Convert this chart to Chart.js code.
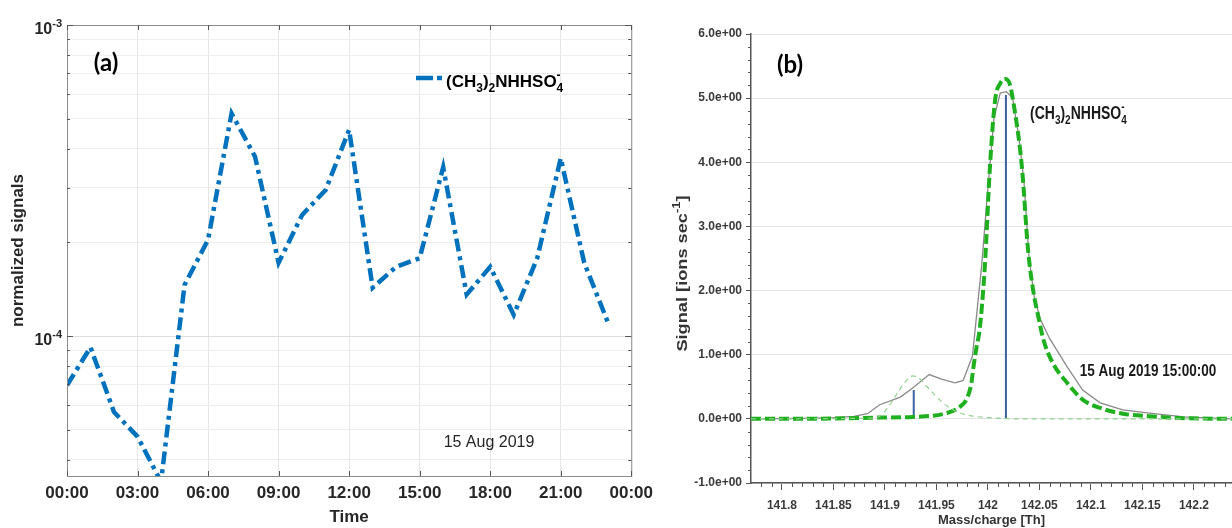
<!DOCTYPE html>
<html>
<head>
<meta charset="utf-8">
<title>Dimethylamine–sulfate signal</title>
<script src="https://cdn.jsdelivr.net/npm/chart.js@4.4.1/dist/chart.umd.min.js"></script>
<style>
  body { margin: 0; background: #fff; }
  #wrap { position: relative; width: 1232px; height: 528px; overflow: hidden; background: #fff; }
  canvas { position: absolute; top: 0; }
  #timeChart { left: 0; }
  #specChart { left: 660px; }
</style>
</head>
<body>
<div id="wrap">
  <canvas id="timeChart" width="660" height="528"></canvas>
  <canvas id="specChart" width="572" height="528"></canvas>
</div>
<script>
// (a) hourly normalized signal, 15 Aug 2019
const hours = [0, 1, 2, 3, 4, 5, 6, 7, 8, 9, 10, 11, 12, 13, 14, 15, 16, 17, 18, 19, 20, 21, 22, 23];
const signal = [6.95e-5, 9.2e-5, 5.7e-5, 4.75e-5, 3.4e-5, 1.46e-4, 2.04e-4, 5.2e-4, 3.77e-4, 1.72e-4,
                2.45e-4, 2.95e-4, 4.6e-4, 1.43e-4, 1.67e-4, 1.78e-4, 3.49e-4, 1.36e-4, 1.67e-4, 1.17e-4,
                1.78e-4, 3.73e-4, 1.72e-4, 1.11e-4];
const logGrid = [4e-5, 5e-5, 6e-5, 7e-5, 8e-5, 9e-5, 1e-4, 2e-4, 3e-4, 4e-4, 5e-4, 6e-4, 7e-4, 8e-4, 9e-4, 1e-3];
const logLabels = [1e-4, 1e-3];

// (b) mass spectrum around m/z 142 at 15:00
const rawMass = [141.77, 141.80, 141.83, 141.85, 141.87, 141.883, 141.895, 141.915, 141.927, 141.943,
                 141.955, 141.968, 141.976, 141.985, 141.994, 142.0, 142.006, 142.012, 142.018, 142.024,
                 142.03, 142.035, 142.04, 142.045, 142.051, 142.06, 142.077, 142.092, 142.109, 142.131,
                 142.157, 142.19, 142.237];
const rawSignal = [0, 0.005, 0.01, 0.02, 0.04, 0.08, 0.22, 0.34, 0.48, 0.69,
                   0.62, 0.56, 0.6, 0.98, 2.4, 3.6, 4.7, 5.08, 5.1, 5.0,
                   4.4, 3.7, 2.5, 1.9, 1.55, 1.25, 0.81, 0.45, 0.25, 0.14,
                   0.09, 0.03, 0];
const fitMass = [141.77, 141.85, 141.895, 141.927, 141.96, 141.973, 141.98, 141.984, 141.986, 141.989,
                 141.992, 141.997, 142.002, 142.007, 142.012, 142.0165, 142.021, 142.026, 142.033, 142.039,
                 142.044, 142.049, 142.054, 142.063, 142.077, 142.092, 142.109, 142.131, 142.157, 142.19,
                 142.237];
const fitSignal = [0, 0.005, 0.02, 0.03, 0.09, 0.19, 0.33, 0.56, 0.81, 1.12,
                   1.39, 2.37, 3.93, 4.97, 5.23, 5.3, 5.23, 4.81, 3.93, 2.63,
                   2.0, 1.59, 1.23, 0.87, 0.56, 0.3, 0.17, 0.08, 0.04, 0.01,
                   0];
const minorMass = [141.77, 141.885, 141.895, 141.904, 141.912, 141.92, 141.927, 141.934, 141.941, 141.953,
                   141.965, 141.98, 142.0, 142.03, 142.237];
const minorSignal = [0, 0.01, 0.04, 0.2, 0.4, 0.58, 0.67, 0.62, 0.5, 0.3,
                     0.15, 0.06, 0.02, 0, 0];
const stickMass = [141.928, 142.0175];
const stickLow = [0.04, 0];
const stickHigh = [0.45, 5.05];
const massTicks = [141.8, 141.85, 141.9, 141.95, 142, 142.05, 142.1, 142.15, 142.2];

const FAMILY = '"Liberation Sans", Arial, sans-serif';
Chart.defaults.font.family = FAMILY;
Chart.defaults.color = '#262626';

const formula = [{ t: '(CH' }, { sub: '3' }, { t: ')' }, { sub: '2' }, { t: 'NHHSO' }, { sub: '4', sup: '-' }];

// text runs on one baseline, sub/superscripts in a smaller size
function drawRich(ctx, runs, x, y, size, weight, align) {
  const big = `${weight} ${size}px ${FAMILY}`;
  const small = `${weight} ${Math.round(size * 0.7)}px ${FAMILY}`;
  const widthOf = r => {
    if (r.t) { ctx.font = big; return ctx.measureText(r.t).width; }
    ctx.font = small;
    return Math.max(r.sub ? ctx.measureText(r.sub).width : 0, r.sup ? ctx.measureText(r.sup).width : 0);
  };
  const total = runs.reduce((s, r) => s + widthOf(r), 0);
  let cx = align === 'center' ? x - total / 2 : align === 'right' ? x - total : x;
  ctx.textAlign = 'left';
  ctx.textBaseline = 'alphabetic';
  runs.forEach(r => {
    const w = widthOf(r);
    if (r.t) {
      ctx.font = big;
      ctx.fillText(r.t, cx, y);
    } else {
      ctx.font = small;
      if (r.sub) ctx.fillText(r.sub, cx, y + size * 0.28);
      if (r.sup) ctx.fillText(r.sup, cx, y - size * 0.45);
    }
    cx += w;
  });
}

function line(ctx, x1, y1, x2, y2) {
  ctx.beginPath();
  ctx.moveTo(x1, y1);
  ctx.lineTo(x2, y2);
  ctx.stroke();
}

// axes box, inward ticks and labels for the time series
const frameA = {
  id: 'frameA',
  afterDraw(chart) {
    const { ctx, chartArea: a, scales: { x, y } } = chart;
    ctx.save();
    ctx.strokeStyle = '#8c8c8c';
    ctx.lineWidth = 1;
    ctx.strokeRect(a.left + 0.5, a.top + 0.5, a.right - a.left, a.bottom - a.top);
    ctx.strokeStyle = '#555';
    x.ticks.forEach(t => {
      const px = Math.round(x.getPixelForValue(t.value)) + 0.5;
      line(ctx, px, a.top, px, a.top + 5);
      line(ctx, px, a.bottom, px, a.bottom - 5);
    });
    logGrid.forEach(v => {
      const py = Math.round(y.getPixelForValue(v)) + 0.5;
      const len = logLabels.includes(v) ? 6 : 3;
      line(ctx, a.left, py, a.left + len, py);
      line(ctx, a.right - len, py, a.right, py);
    });

    ctx.fillStyle = '#262626';
    logLabels.forEach(v => {
      const py = y.getPixelForValue(v);
      drawRich(ctx, [{ t: '10' }, { sup: '-' + Math.round(-Math.log10(v)) }], a.left - 5, py + 9, 16, 'bold', 'right');
    });

    ctx.fillStyle = '#000';
    ctx.font = 'bold 24px Lato, sans-serif';
    ctx.textAlign = 'center';
    ctx.textBaseline = 'middle';
    ctx.fillText('(a)', 106, 63);

    // legend
    ctx.strokeStyle = '#0072bd';
    ctx.lineWidth = 4.5;
    line(ctx, 416, 78, 433, 78);
    line(ctx, 437, 78, 442, 78);
    ctx.fillStyle = '#000';
    drawRich(ctx, formula, 446, 87, 17, 'bold', 'left');

    ctx.fillStyle = '#262626';
    ctx.font = `16px ${FAMILY}`;
    ctx.textAlign = 'center';
    ctx.textBaseline = 'middle';
    ctx.fillText('15 Aug 2019', 489, 443);
    ctx.restore();
  }
};

new Chart(document.getElementById('timeChart'), {
  type: 'line',
  data: {
    datasets: [{
      label: '(CH3)2NHHSO4-',
      data: hours.map((h, i) => ({ x: h, y: signal[i] })),
      borderColor: '#0072bd',
      borderWidth: 4.5,
      borderDash: [13, 5, 4, 5],
      borderCapStyle: 'butt',
      pointRadius: 0,
      tension: 0
    }]
  },
  options: {
    responsive: false,
    animation: false,
    layout: { padding: { top: 25, right: 24, left: 0, bottom: 0 } },
    plugins: { legend: { display: false }, tooltip: { enabled: false } },
    scales: {
      x: {
        type: 'linear',
        min: 0,
        max: 24,
        afterFit: s => { s.height = 52; },
        ticks: {
          stepSize: 3,
          padding: 7,
          font: { size: 17, weight: 'bold' },
          color: '#262626',
          callback: v => String(v % 24).padStart(2, '0') + ':00'
        },
        grid: { color: '#e6e6e6', drawTicks: false },
        border: { display: false },
        title: { display: true, text: 'Time', font: { size: 17, weight: 'bold' }, color: '#262626', padding: { top: 0, bottom: 0 } }
      },
      y: {
        type: 'logarithmic',
        min: 3.55e-5,
        max: 1e-3,
        afterFit: s => { s.width = 67; },
        afterBuildTicks: s => { s.ticks = logGrid.map(v => ({ value: v })); },
        ticks: { display: false },
        grid: {
          drawTicks: false,
          color: c => logLabels.includes(c.tick.value) ? '#dedede' : '#eeeeee'
        },
        border: { display: false },
        title: { display: true, text: 'normalized signals', font: { size: 17, weight: 'bold' }, color: '#262626', padding: { top: 8, bottom: 0 } }
      }
    }
  },
  plugins: [frameA]
});

// minor ticks and labels for the spectrum
const frameB = {
  id: 'frameB',
  afterDraw(chart) {
    const { ctx, chartArea: a, scales: { x, y } } = chart;
    ctx.save();
    ctx.strokeStyle = '#555';
    ctx.lineWidth = 1;
    for (let k = 14178; k <= 14223; k++) {
      if (k % 5 === 0) continue;
      const px = Math.round(x.getPixelForValue(k / 100)) + 0.5;
      line(ctx, px, a.bottom, px, a.bottom + 4);
    }
    for (let k = -10; k <= 60; k += 2) {
      if (k % 10 === 0) continue;
      const py = Math.round(y.getPixelForValue(k / 10)) + 0.5;
      line(ctx, a.left - 3, py, a.left, py);
    }

    ctx.fillStyle = '#000';
    ctx.font = 'bold 24px Lato, sans-serif';
    ctx.textAlign = 'center';
    ctx.textBaseline = 'middle';
    ctx.fillText('(b)', 130, 65);

    // this panel's lettering is drawn taller than wide
    ctx.fillStyle = '#1a1a1a';
    ctx.save();
    ctx.translate(370, 119);
    ctx.scale(1, 1.3);
    drawRich(ctx, formula, 0, 0, 14, 'bold', 'left');
    ctx.restore();

    ctx.save();
    ctx.translate(488, 376);
    ctx.scale(1, 1.25);
    ctx.font = `bold 13.5px ${FAMILY}`;
    ctx.textAlign = 'center';
    ctx.textBaseline = 'alphabetic';
    ctx.fillText('15 Aug 2019 15:00:00', 0, 0);
    ctx.restore();

    ctx.fillStyle = '#333';
    ctx.save();
    ctx.translate(27, (a.top + a.bottom) / 2 + 15);
    ctx.rotate(-Math.PI / 2);
    ctx.scale(1.3, 1.1);
    drawRich(ctx, [{ t: 'Signal [ions sec' }, { sup: '-1' }, { t: ']' }], 0, 0, 14, 'bold', 'center');
    ctx.restore();
    ctx.restore();
  }
};

const pts = (xs, ys) => xs.map((m, i) => ({ x: m, y: ys[i] }));

new Chart(document.getElementById('specChart'), {
  type: 'line',
  data: {
    datasets: [
      {
        label: 'peak 141.928',
        data: pts(minorMass, minorSignal),
        borderColor: '#8fd18f',
        borderWidth: 1.2,
        borderDash: [5, 4],
        pointRadius: 0,
        cubicInterpolationMode: 'monotone'
      },
      {
        label: 'fit',
        data: pts(fitMass, fitSignal),
        borderColor: '#1eb01e',
        borderWidth: 4,
        borderDash: [10, 4],
        pointRadius: 0,
        cubicInterpolationMode: 'monotone'
      },
      {
        label: 'spectrum',
        data: pts(rawMass, rawSignal),
        borderColor: '#8a8a8a',
        borderWidth: 1.3,
        pointRadius: 0,
        tension: 0
      },
      ...stickMass.map((m, i) => ({
        label: 'stick ' + m,
        data: [{ x: m, y: stickLow[i] }, { x: m, y: stickHigh[i] }],
        borderColor: '#3a62a3',
        borderWidth: 2,
        pointRadius: 0
      }))
    ]
  },
  options: {
    responsive: false,
    animation: false,
    layout: { padding: { top: 34, right: 0, left: 0, bottom: 0 } },
    plugins: { legend: { display: false }, tooltip: { enabled: false } },
    scales: {
      x: {
        type: 'linear',
        min: 141.77,
        max: 142.237,
        afterFit: s => { s.height = 45; },
        afterBuildTicks: s => { s.ticks = massTicks.map(v => ({ value: v })); },
        ticks: {
          padding: 8,
          font: { size: 12, weight: 'bold' },
          color: '#3a3a3a',
          callback: v => String(parseFloat(v.toFixed(2)))
        },
        grid: { drawOnChartArea: false, tickLength: 7, color: '#555' },
        border: { color: '#555', width: 1.5 },
        title: { display: true, text: 'Mass/charge [Th]', font: { size: 13, weight: 'bold' }, color: '#333', padding: { top: 0, bottom: 0 } }
      },
      y: {
        min: -1,
        max: 6,
        afterFit: s => { s.width = 91; },
        ticks: {
          stepSize: 1,
          padding: 4,
          font: { size: 12, weight: 'bold' },
          color: '#3a3a3a',
          callback: v => v.toFixed(1) + 'e+00'
        },
        grid: { color: '#e4e4e4', tickColor: '#555', tickLength: 5 },
        border: { color: '#555', width: 1.5 }
      }
    }
  },
  plugins: [frameB]
});
</script>
</body>
</html>
